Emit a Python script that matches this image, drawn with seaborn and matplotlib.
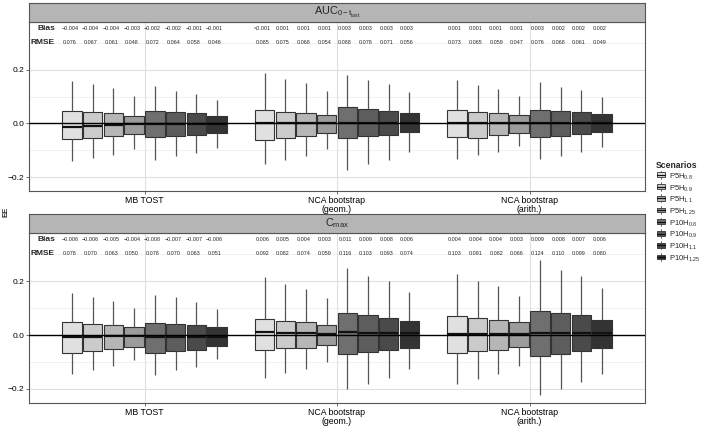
import numpy as np
import pandas as pd
import matplotlib
matplotlib.use("Agg")
import matplotlib.pyplot as plt
import seaborn as sns
from matplotlib.legend_handler import HandlerBase
from matplotlib.patches import Rectangle
from matplotlib.lines import Line2D

sns.set_theme(style="white")
plt.rcParams['font.family'] = ['Liberation Sans', 'DejaVu Sans']
plt.rcParams['mathtext.fontset'] = 'custom'
plt.rcParams['mathtext.rm'] = 'Liberation Sans'
plt.rcParams['mathtext.it'] = 'Liberation Sans'
plt.rcParams['mathtext.bf'] = 'Liberation Sans:bold'

# ---------------- data ----------------
methods = ["MB TOST", "NCA bootstrap\n(geom.)", "NCA bootstrap\n(arith.)"]
scenarios = ["P5H0.8", "P5H0.9", "P5H1.1", "P5H1.25",
             "P10H0.8", "P10H0.9", "P10H1.1", "P10H1.25"]
scenario_labels = [r"P5H$_{0.8}$", r"P5H$_{0.9}$", r"P5H$_{1.1}$", r"P5H$_{1.25}$",
                   r"P10H$_{0.8}$", r"P10H$_{0.9}$", r"P10H$_{1.1}$", r"P10H$_{1.25}$"]
panels = ["AUC", "Cmax"]
panel_titles = [r"AUC$_{0-t_{last}}$", r"C$_{max}$"]

# five-number summaries per box: [lower whisker, Q1, median, Q3, upper whisker]
auc_mb = [[-0.141, -0.060, -0.013, 0.047, 0.159], [-0.129, -0.054, -0.009, 0.041, 0.147],
          [-0.117, -0.047, -0.006, 0.038, 0.131], [-0.094, -0.040, -0.003, 0.028, 0.102],
          [-0.135, -0.052, -0.002, 0.046, 0.139], [-0.121, -0.047, -0.002, 0.041, 0.122],
          [-0.110, -0.043, -0.001, 0.037, 0.110], [-0.091, -0.034, -0.001, 0.027, 0.087]]
auc_geo = [[-0.153, -0.062, 0.000, 0.050, 0.187], [-0.135, -0.055, 0.000, 0.043, 0.166],
           [-0.121, -0.046, 0.001, 0.040, 0.150], [-0.097, -0.037, 0.001, 0.032, 0.120],
           [-0.172, -0.054, 0.003, 0.060, 0.182], [-0.153, -0.047, 0.002, 0.053, 0.162],
           [-0.135, -0.043, 0.002, 0.047, 0.147], [-0.107, -0.031, 0.002, 0.040, 0.117]]
auc_ari = [[-0.132, -0.052, 0.000, 0.050, 0.162], [-0.116, -0.054, 0.000, 0.043, 0.143],
           [-0.105, -0.044, 0.001, 0.040, 0.128], [-0.084, -0.034, 0.001, 0.031, 0.102],
           [-0.132, -0.052, 0.002, 0.051, 0.153], [-0.121, -0.046, 0.002, 0.046, 0.136],
           [-0.108, -0.040, 0.002, 0.041, 0.123], [-0.088, -0.033, 0.002, 0.034, 0.098]]
cmax_mb = [[-0.143, -0.065, -0.006, 0.048, 0.156], [-0.128, -0.058, -0.006, 0.042, 0.141],
           [-0.115, -0.052, -0.005, 0.038, 0.126], [-0.091, -0.043, -0.004, 0.031, 0.100],
           [-0.147, -0.065, -0.008, 0.046, 0.150], [-0.128, -0.059, -0.007, 0.042, 0.142],
           [-0.119, -0.054, -0.007, 0.037, 0.124], [-0.090, -0.042, -0.006, 0.030, 0.098]]
cmax_geo = [[-0.158, -0.057, 0.010, 0.061, 0.215], [-0.141, -0.050, 0.008, 0.053, 0.188],
            [-0.127, -0.047, 0.006, 0.048, 0.172], [-0.101, -0.037, 0.004, 0.038, 0.137],
            [-0.199, -0.069, 0.010, 0.081, 0.247], [-0.180, -0.064, 0.009, 0.073, 0.220],
            [-0.160, -0.056, 0.008, 0.064, 0.200], [-0.127, -0.047, 0.006, 0.051, 0.159]]
cmax_ari = [[-0.180, -0.067, 0.004, 0.069, 0.225], [-0.162, -0.059, 0.004, 0.063, 0.200],
            [-0.146, -0.054, 0.004, 0.057, 0.183], [-0.116, -0.044, 0.003, 0.047, 0.146],
            [-0.223, -0.078, 0.009, 0.090, 0.277], [-0.199, -0.070, 0.008, 0.081, 0.240],
            [-0.176, -0.061, 0.007, 0.073, 0.217], [-0.143, -0.049, 0.006, 0.057, 0.174]]

bias_auc = [["−0.004", "−0.004", "−0.004", "−0.003", "−0.002", "−0.002", "−0.001", "−0.001"],
            ["<0.001", "0.001", "0.001", "0.001", "0.003", "0.003", "0.003", "0.003"],
            ["0.001", "0.001", "0.001", "0.001", "0.003", "0.002", "0.002", "0.002"]]
rmse_auc = [["0.076", "0.067", "0.061", "0.048", "0.072", "0.064", "0.058", "0.046"],
            ["0.085", "0.075", "0.068", "0.054", "0.088", "0.078", "0.071", "0.056"],
            ["0.073", "0.065", "0.059", "0.047", "0.076", "0.068", "0.061", "0.049"]]
bias_cmax = [["−0.006", "−0.006", "−0.005", "−0.004", "−0.008", "−0.007", "−0.007", "−0.006"],
             ["0.006", "0.005", "0.004", "0.003", "0.011", "0.009", "0.008", "0.006"],
             ["0.004", "0.004", "0.004", "0.003", "0.009", "0.008", "0.007", "0.006"]]
rmse_cmax = [["0.078", "0.070", "0.063", "0.050", "0.078", "0.070", "0.063", "0.051"],
             ["0.092", "0.082", "0.074", "0.059", "0.116", "0.103", "0.093", "0.074"],
             ["0.103", "0.091", "0.082", "0.066", "0.124", "0.110", "0.099", "0.080"]]

fills = ["#e0e0e0", "#cbcbcb", "#b6b6b6", "#9c9c9c",
         "#6f6f6f", "#5d5d5d", "#4a4a4a", "#333333"]

summaries = {"AUC": [auc_mb, auc_geo, auc_ari], "Cmax": [cmax_mb, cmax_geo, cmax_ari]}
texts = {"AUC": (bias_auc, rmse_auc), "Cmax": (bias_cmax, rmse_cmax)}

rows = []
for p in panels:
    for mi, m in enumerate(methods):
        for si, s in enumerate(scenarios):
            for v in summaries[p][mi][si]:
                rows.append({"panel": p, "method": m, "scenario": s, "EE": v})
df = pd.DataFrame(rows)

# ---------------- figure ----------------
W, H = 709, 426
fig = plt.figure(figsize=(W / 100, H / 100), dpi=100)

def fx(px):
    return px / W

def fy(py):
    return 1 - py / H

axes_px = [(22, 191, 3), (233, 403, 214)]  # top, bottom, strip top (pixels)
left_px, right_px = 29, 645
box_width, ngroups = 0.86, len(scenarios)
offsets = (np.arange(ngroups) - (ngroups - 1) / 2) * box_width / ngroups
edge = "#333333"

for pi, p in enumerate(panels):
    top, bot, stop = axes_px[pi]
    ax = fig.add_axes([fx(left_px), fy(bot), fx(right_px - left_px), (bot - top) / H])
    sax = fig.add_axes([fx(left_px), fy(top), fx(right_px - left_px), (top - stop) / H])

    # grid
    for yv in [-0.1, 0.1, 0.3]:
        ax.axhline(yv, color="#ececec", lw=0.5, zorder=0)
    for yv in [-0.2, 0.2]:
        ax.axhline(yv, color="#e0e0e0", lw=0.8, zorder=0)
    for xv in range(len(methods)):
        ax.axvline(xv, color="#e0e0e0", lw=0.8, zorder=0)

    sub = df[df.panel == p]
    sns.boxplot(data=sub, x="method", y="EE", hue="scenario", order=methods,
                hue_order=scenarios, palette=fills, whis=np.inf, width=box_width,
                gap=0.06, linecolor=edge, linewidth=0.8, saturation=1,
                medianprops={"color": "#111111", "linewidth": 1.6},
                whiskerprops={"color": "#555555", "linewidth": 0.9},
                capprops={"visible": False},
                legend=False, ax=ax, zorder=2)

    ax.axhline(0, color="black", lw=1.0, zorder=5)
    ax.set_xlim(-0.6, 2.6)
    ax.set_ylim(-0.252, 0.378)
    ax.set_yticks([-0.2, 0.0, 0.2])
    ax.set_yticklabels(["−0.2", "0.0", "0.2"])
    ax.set_xlabel("")
    ax.set_ylabel("")
    ax.tick_params(axis="both", labelsize=6, length=2, width=0.5,
                   colors="#333333", labelcolor="black", pad=1.5, left=True, bottom=True)
    ax.set_xticks(range(len(methods)))
    ax.set_xticklabels(methods, fontsize=6.3, linespacing=1.0)
    for sp in ax.spines.values():
        sp.set_color("#555555")
        sp.set_linewidth(0.8)

    # Bias / RMSE annotations
    bias, rmse = texts[p]
    ax.text(-0.465, 0.353, "Bias", ha="right", va="center", fontsize=6, fontweight="bold")
    ax.text(-0.465, 0.302, "RMSE", ha="right", va="center", fontsize=6, fontweight="bold")
    for mi in range(len(methods)):
        for si in range(ngroups):
            xpos = mi + offsets[si] - 0.012
            ax.text(xpos, 0.353, bias[mi][si], ha="center", va="center", fontsize=3.9)
            ax.text(xpos, 0.302, rmse[mi][si], ha="center", va="center", fontsize=3.9)

    # strip
    sax.set_facecolor("#b5b5b5")
    sax.set_xticks([])
    sax.set_yticks([])
    for sp in sax.spines.values():
        sp.set_color("#555555")
        sp.set_linewidth(0.8)
    sax.text(0.5, 0.5, panel_titles[pi], ha="center", va="center", fontsize=7.8,
             transform=sax.transAxes)

fig.text(fx(6), fy(212), "EE", rotation=90, ha="center", va="center", fontsize=5.5,
         fontweight="bold")

# legend with boxplot-like keys
class BoxKey(HandlerBase):
    def create_artists(self, legend, orig_handle, xd, yd, width, height, fontsize, trans):
        fc = orig_handle.get_facecolor()
        w = width * 0.85
        x0 = xd + (width - w) / 2
        rect = Rectangle((x0, yd + height * 0.12), w, height * 0.76, facecolor=fc,
                         edgecolor=edge, lw=0.6, transform=trans)
        vline = Line2D([xd + width / 2] * 2, [yd - height * 0.15, yd + height * 1.15],
                       color="#555555", lw=0.6, transform=trans)
        med = Line2D([x0, x0 + w], [yd + height / 2] * 2, color="#111111", lw=0.9,
                     transform=trans)
        return [vline, rect, med]

handles = [Rectangle((0, 0), 1, 1, facecolor=c) for c in fills]
leg = fig.legend(handles, scenario_labels, title="Scenarios", loc="upper left",
                 bbox_to_anchor=(fx(653), fy(158)), frameon=False, fontsize=5.5,
                 title_fontproperties={"weight": "bold", "size": 6.2},
                 handler_map={Rectangle: BoxKey()}, handlelength=1.2, handleheight=0.9,
                 handletextpad=0.5, labelspacing=0.2, borderaxespad=0)
leg._legend_box.align = "left"

fig.savefig("out.png", dpi=100, facecolor="white")
